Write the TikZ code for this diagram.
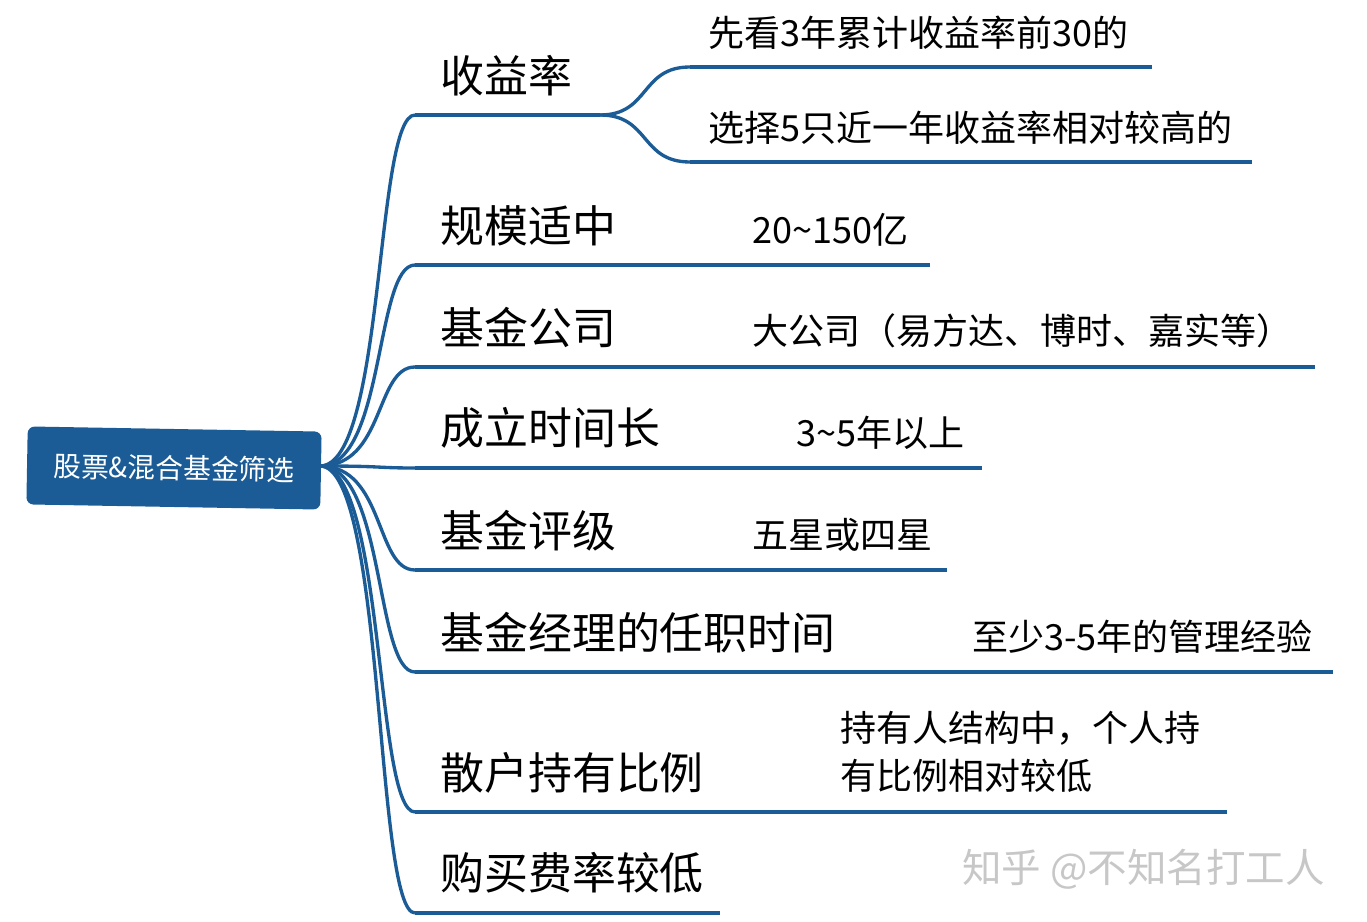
\documentclass[tikz,border=0pt]{standalone}
\usepackage{fontspec}
\newfontfamily\cjk{Noto Sans CJK SC}
\definecolor{mblue}{HTML}{1B5C97}
\definecolor{rootblue}{HTML}{1B5C97}
\begin{document}
\begin{tikzpicture}[x=0.02cm,y=-0.02cm,
  conn/.style={draw=mblue,line width=1.9pt},
  br/.style={anchor=south west,inner sep=0pt,font=\cjk\fontsize{25pt}{28pt}\selectfont},
  sub/.style={anchor=south west,inner sep=0pt,font=\cjk\fontsize{20.5pt}{28pt}\selectfont},
  rootbox/.style={fill=rootblue,text=white,rounded corners=4pt,minimum width=5.88cm,minimum height=1.56cm,font=\cjk\fontsize{15.8pt}{18pt}\selectfont,rotate=-1}]
\useasboundingbox (0,0) rectangle (1367,922);
\node[rootbox] (root) at (174,468) {股票\&混合基金筛选};
\coordinate (r) at (320,466);
\foreach \n/\y/\e in {a/115/600,b/265/930,c/367/1315,d/468/982,e/570/947,f/672/1333,g/812/1227,h/913/720}{
  \coordinate (\n s) at (415,\y);
  \coordinate (\n e) at (\e,\y);
  \draw[conn] (\n s) -- (\n e);
  \draw[conn] (r) .. controls (385,466) and (375,\y) .. (\n s);
}
\coordinate (a1s) at (690,67); \coordinate (a1e) at (1152,67);
\coordinate (a2s) at (690,162); \coordinate (a2e) at (1252,162);
\draw[conn] (a1s) -- (a1e); \draw[conn] (a2s) -- (a2e);
\draw[conn] (ae) .. controls (650,115) and (640,67) .. (a1s);
\draw[conn] (ae) .. controls (650,115) and (640,162) .. (a2s);
\node[br] (ta) at (440,96) {收益率};
\node[br] (tb) at (440,246) {规模适中};
\node[br] (tc) at (440,348) {基金公司};
\node[br] (td) at (440,449) {成立时间长};
\node[br] (te) at (440,551) {基金评级};
\node[br] (tf) at (440,653) {基金经理的任职时间};
\node[br] (tg) at (440,794) {散户持有比例};
\node[br] (th) at (440,894) {购买费率较低};
\node[sub] (sa1) at (708,50) {先看3年累计收益率前30的};
\node[sub] (sa2) at (708,145) {选择5只近一年收益率相对较高的};
\node[sub] (sb) at (752,247) {20\textasciitilde150亿};
\node[sub] (sc) at (752,348) {大公司（易方达、博时、嘉实等）};
\node[sub] (sd) at (796,450) {3\textasciitilde5年以上};
\node[sub] (se) at (752,552) {五星或四星};
\node[sub] (sf) at (972,654) {至少3-5年的管理经验};
\node[sub] (sg1) at (840,746) {持有人结构中，个人持};
\node[sub] (sg2) at (840,793) {有比例相对较低};
\node[anchor=south west,inner sep=0pt,text=black!22,font=\cjk\fontsize{22.5pt}{24pt}\selectfont] (wm) at (962,890) {知乎 @不知名打工人};
\end{tikzpicture}
\end{document}
